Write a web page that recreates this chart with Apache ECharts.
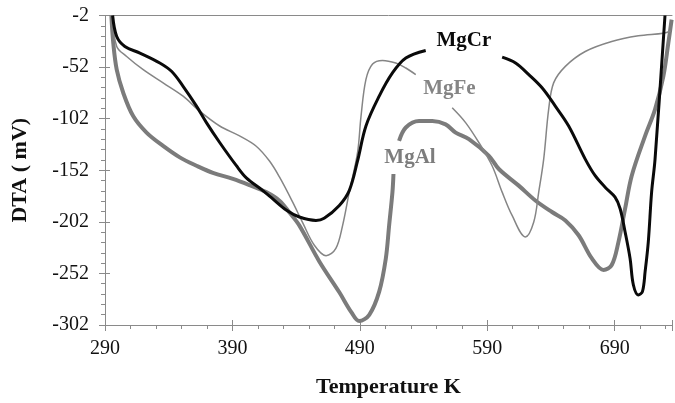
<!DOCTYPE html>
<html><head><meta charset="utf-8">
<script src="https://cdn.jsdelivr.net/npm/echarts@6/dist/echarts.min.js"></script>
<style>html,body{margin:0;padding:0;background:#fff}#c{width:675px;height:403px}</style>
</head><body><div id="c"></div><script>
// Axis settings (data units)
const xRange = [290, 735];
const yRange = [-302, -2];
const xStep = 100;
const yStep = 50;

// Curves: [Temperature K, DTA mV]; '-' marks a gap around a curve label
const mgCr = [
  [296,-2],[299.2,-22.4],[305.6,-32.0],[317.4,-38.4],[333.0,-48.0],[342.2,-56.1],
  [351.3,-70.6],[361.8,-89.8],[369.6,-105.8],[380.0,-125.1],[393.1,-147.6],
  [400.9,-159.4],[413.9,-171.7],[421.7,-179.7],[432.2,-190.5],[442.6,-197.3],
  [455.6,-200.6],[462.0,-198.5],[473.9,-186.1],[481.7,-171.7],[488.2,-143],
  [494.8,-109.1],[505.2,-80.2],[515.6,-57.7],[526.1,-43.2],[541.7,-35.9],
  ['-','-'],
  [601.7,-42.3],[612.2,-48.0],[622.6,-59.3],[633.0,-72.1],[643.4,-89.8],
  [653.9,-109.1],[666.9,-141.2],[674.7,-157.3],[682.5,-168.4],[690.3,-178.1],
  [694.3,-189.3],[698.2,-211.8],[702.1,-237.5],[704.7,-263.2],[708.6,-272.8],
  [711.8,-269.6],[713.9,-250.3],[716.4,-221.4],[719.0,-173.2],[721.7,-141.2],
  [729.5,-2]
];
const mgFe = [
  [296,-2],[299.2,-32.0],[307.0,-41.7],[320.0,-54.5],[335.6,-67.3],[351.3,-80.2],
  [364.3,-94.7],[380.0,-109.1],[395.6,-118.7],[408.7,-128.7],[419.1,-143.1],
  [426.9,-158.5],[437.3,-182.9],[445.2,-203],[454.3,-224.7],
  [463.5,-234.9],[471.2,-227.8],[476.5,-205.4],[481.7,-173.2],[488.2,-135],
  [490.9,-100],[494.8,-64.0],[500.0,-49.0],[507.8,-45.5],[518.2,-48.0],
  [526.1,-52.9],[533.9,-59.3],
  ['-','-'],
  [562.5,-91.4],[573.0,-105.8],[583.4,-125.1],[593.8,-147.6],[601.7,-173.2],
  [609.5,-195.8],[619.9,-216.6],[626.5,-202.1],[630.4,-173.2],[634.3,-141.2],
  [638.2,-93.0],[642.1,-67.3],[651.3,-51.3],[666.9,-36.9],[687.7,-27.2],
  [708.6,-21.7],[728.2,-19.1],[734,-17]
];
const mgAl = [
  [295,-2],[296.5,-28.8],[299.2,-54.5],[304.3,-76.9],[312.1,-99.5],[322.6,-115.5],
  [335.6,-128.4],[348.7,-139.5],[361.8,-147.6],[374.7,-154.5],[390.4,-160.4],
  [403.5,-166.5],[416.5,-173.2],[426.9,-181.5],[434.8,-193],[442.6,-205.7],
  [458.2,-240.4],[473.9,-270.3],[483.3,-289.5],[489.5,-298.2],[497.4,-292.1],
  [505.2,-269.6],[510.4,-237.5],[513.0,-205.4],[515.6,-173.2],[516.4,-155.6],
  ['-','-'],
  [520.8,-123.5],[526.1,-110.6],[536.5,-104.3],[546.9,-104.3],[557.3,-107.5],
  [565.2,-115.5],[575.6,-121.9],[591.3,-138.0],[599.1,-150.8],[614.7,-166.9],
  [627.8,-181.3],[640.8,-192.5],[651.3,-200.6],[661.7,-215.0],[672.1,-237.5],
  [681.3,-248.7],[687.7,-243.9],[693.0,-221.4],[698.2,-189.3],[703.4,-157.3],
  [713.9,-118.7],[721.7,-93.0],[728.2,-60.9],[732.1,-28.8],[734.7,-6]
];

// Curve label anchors (data units)
const labelCr = [571.7, -26.6];
const labelFe = [560.3, -73.3];
const labelAl = [529.4, -139.8];

const serif = '"Liberation Serif", "Times New Roman", serif';
const axisGray = '#8a8a8a';

function curve(name, data, color, width, labelPos, labelColor) {
  return {
    type: 'line', name: name, data: data, showSymbol: false, symbol: 'none',
    smooth: 0.35, connectNulls: false,
    lineStyle: { color: color, width: width },
    markPoint: {
      symbol: 'rect', symbolSize: [64, 22],
      itemStyle: { color: 'rgba(0,0,0,0)' },
      label: { show: true, position: 'inside', formatter: name,
        fontFamily: serif, fontWeight: 'bold', fontSize: 21, color: labelColor },
      data: [{ coord: labelPos }]
    }
  };
}

const chart = echarts.init(document.getElementById('c'), null, { renderer: 'canvas' });
chart.setOption({
  animation: false,
  backgroundColor: '#fff',
  grid: { left: 105, right: 1, top: 15.5, bottom: 76, containLabel: false },
  xAxis: [{
    type: 'value', position: 'bottom', min: xRange[0], max: xRange[1], interval: xStep,
    name: 'Temperature K', nameLocation: 'middle', nameGap: 51,
    nameTextStyle: { fontFamily: serif, fontWeight: 'bold', fontSize: 22, color: '#111' },
    axisLine: { show: true, lineStyle: { color: axisGray, width: 1 } },
    axisTick: { show: true, length: 6, lineStyle: { color: axisGray } },
    minorTick: { show: true, splitNumber: 5, length: 4, lineStyle: { color: axisGray } },
    splitLine: { show: false },
    axisLabel: { margin: 14, fontFamily: serif, fontSize: 20, color: '#111',
      formatter: v => ((v - xRange[0]) % xStep === 0 ? String(v) : '') }
  }, {
    type: 'value', position: 'top', min: xRange[0], max: xRange[1],
    axisLine: { show: true, lineStyle: { color: axisGray, width: 1 } },
    axisTick: { show: false }, axisLabel: { show: false }, splitLine: { show: false }
  }, {
    type: 'value', position: 'bottom', offset: 0, min: xRange[0], max: xRange[1], interval: xStep,
    axisLine: { show: false },
    axisTick: { show: true, inside: true, length: 5, lineStyle: { color: axisGray } },
    axisLabel: { show: false }, splitLine: { show: false }
  }],
  yAxis: [{
    type: 'value', min: yRange[0], max: yRange[1], interval: yStep,
    name: 'DTA ( mV)', nameLocation: 'middle', nameGap: 74, nameRotate: 90,
    nameTextStyle: { fontFamily: serif, fontWeight: 'bold', fontSize: 22, color: '#111' },
    axisLine: { show: true, lineStyle: { color: axisGray, width: 1 } },
    axisTick: { show: true, length: 6, lineStyle: { color: axisGray } },
    minorTick: { show: true, splitNumber: 5, length: 4, lineStyle: { color: axisGray } },
    splitLine: { show: false },
    axisLabel: { margin: 16, fontFamily: serif, fontSize: 20, color: '#111' }
  }, {
    type: 'value', position: 'left', offset: 0, min: yRange[0], max: yRange[1], interval: yStep,
    axisLine: { show: false },
    axisTick: { show: true, inside: true, length: 5, lineStyle: { color: axisGray } },
    axisLabel: { show: false }, splitLine: { show: false }
  }],
  series: [
    curve('MgAl', mgAl, '#7b7b7b', 4, labelAl, '#7d7d7d'),
    curve('MgFe', mgFe, '#858585', 1.5, labelFe, '#858585'),
    curve('MgCr', mgCr, '#0a0a0a', 3, labelCr, '#0a0a0a')
  ]
});
</script></body></html>
